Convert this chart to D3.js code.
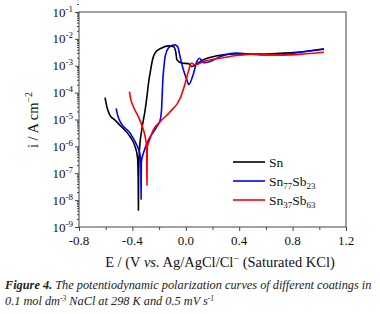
<!DOCTYPE html>
<html>

<head>
    <style>
        body { margin: 0; background: #fff; }
        svg text { font-family: 'Liberation Serif', serif; }
    </style>
</head>

<body>
    <script src="https://d3js.org/d3.v7.min.js"></script>
    <div id="chart"></div>
    <script>
        const width = 380
        const height = 314
        const plot = { left: 79, right: 346, top: 12, bottom: 227 }

        // potential E (V vs Ag/AgCl) and current density i (A cm^-2)
        const snE = [-0.605, -0.59, -0.567, -0.53, -0.492, -0.417, -0.38, -0.362, -0.3565, -0.355, -0.3535, -0.348, -0.33, -0.305, -0.29, -0.278, -0.265, -0.25, -0.23, -0.18, -0.13, -0.093, -0.075, -0.067, -0.03, 0.02, 0.045, 0.07, 0.132, 0.233, 0.357, 0.458, 0.6, 0.733, 0.9, 1.035]
        const snI = [6.5e-5, 2.8e-5, 1.4e-5, 9.5e-6, 6.0e-6, 2.3e-6, 9.8e-7, 4.0e-7, 6.3e-8, 4.2e-9, 6.3e-8, 6.3e-7, 4.1e-6, 2.2e-5, 7.9e-5, 2.5e-4, 6.3e-4, 1.6e-3, 3.0e-3, 4.6e-3, 5.5e-3, 5.2e-3, 3.2e-3, 1.66e-3, 1.26e-3, 1.2e-3, 9.3e-4, 1.07e-3, 1.66e-3, 2.35e-3, 2.75e-3, 2.75e-3, 2.75e-3, 2.95e-3, 3.4e-3, 4.1e-3]

        const sn77E = [-0.522, -0.51, -0.492, -0.417, -0.367, -0.345, -0.337, -0.335, -0.333, -0.326, -0.318, -0.28, -0.217, -0.192, -0.182, -0.177, -0.172, -0.165, -0.155, -0.13, -0.1, -0.08, -0.06, -0.043, -0.018, 0.008, 0.022, 0.058, 0.083, 0.103, 0.133, 0.183, 0.258, 0.383, 0.483, 0.6, 0.708, 0.85, 1.035]
        const sn77I = [2.6e-5, 1.4e-5, 8.3e-6, 3.1e-6, 1.1e-6, 5.6e-7, 2.5e-7, 1.07e-8, 2.5e-7, 4.0e-7, 5.5e-7, 1.7e-6, 5.4e-6, 9.5e-6, 2.2e-5, 7.9e-5, 3.0e-4, 7.9e-4, 2.2e-3, 4.6e-3, 5.8e-3, 6.0e-3, 5.0e-3, 2.2e-3, 7.1e-4, 3.0e-4, 2.0e-4, 5.2e-4, 1.45e-3, 1.9e-3, 1.3e-3, 1.45e-3, 2.2e-3, 2.95e-3, 2.7e-3, 2.5e-3, 2.5e-3, 3.2e-3, 4.3e-3]

        const sn37E = [-0.422, -0.412, -0.395, -0.355, -0.33, -0.305, -0.294, -0.2925, -0.291, -0.2895, -0.288, -0.28, -0.243, -0.192, -0.117, -0.042, -0.005, 0.02, 0.033, 0.045, 0.06, 0.08, 0.133, 0.258, 0.383, 0.533, 0.733, 0.9, 1.035]
        const sn37I = [1.1e-4, 5.6e-5, 3.2e-5, 1.26e-5, 6.3e-6, 2.3e-6, 9.8e-7, 2.5e-7, 3.6e-8, 2.5e-7, 1.0e-6, 1.3e-6, 4.1e-6, 8.3e-6, 1.95e-5, 6.2e-5, 2.2e-4, 6.3e-4, 1.07e-3, 1.26e-3, 1.12e-3, 1.12e-3, 1.45e-3, 1.9e-3, 2.4e-3, 2.75e-3, 2.5e-3, 2.8e-3, 3.2e-3]

        const xTicks = [-0.8, -0.4, 0.0, 0.4, 0.8, 1.2]
        const xMinor = [-0.6, -0.2, 0.2, 0.6, 1.0]
        const yExponents = [-1, -2, -3, -4, -5, -6, -7, -8, -9]

        const series = [
            { name: "Sn", sub: [], color: "#000000", E: snE, I: snI },
            { name: "Sn77Sb23", sub: ["Sn", "77", "Sb", "23"], color: "#0000ff", E: sn77E, I: sn77I },
            { name: "Sn37Sb63", sub: ["Sn", "37", "Sb", "63"], color: "#ff0000", E: sn37E, I: sn37I }
        ]

        const svg = d3.select("#chart").append("svg")
            .attr("width", width).attr("height", height)

        const x = d3.scaleLinear().domain([-0.8, 1.2]).range([plot.left, plot.right])
        const y = d3.scaleLog().domain([1e-9, 1e-1]).range([plot.bottom, plot.top])

        const yMinor = []
        yExponents.forEach(e => { if (e > -1) return; for (let k = 2; k <= 9; k++) yMinor.push(k * Math.pow(10, e)) })

        const axisColor = "#444"

        // minor ticks
        svg.append("g")
            .attr("transform", "translate(" + plot.left + ",0)")
            .call(d3.axisLeft(y).tickValues(yMinor).tickSize(2).tickFormat(""))
        svg.append("g")
            .attr("transform", "translate(0," + plot.bottom + ")")
            .call(d3.axisBottom(x).tickValues(xMinor).tickSize(3).tickFormat(""))

        // major ticks
        svg.append("g")
            .attr("transform", "translate(" + plot.left + ",0)")
            .call(d3.axisLeft(y).tickValues(yExponents.map(e => Math.pow(10, e))).tickSize(4).tickFormat(""))
        svg.append("g")
            .attr("transform", "translate(0," + plot.bottom + ")")
            .call(d3.axisBottom(x).tickValues(xTicks).tickSize(4).tickFormat(""))

        svg.selectAll(".domain").remove()
        svg.selectAll(".tick text").remove()
        svg.selectAll(".tick line").attr("stroke", axisColor)

        svg.append("rect")
            .attr("x", plot.left).attr("y", plot.top)
            .attr("width", plot.right - plot.left).attr("height", plot.bottom - plot.top)
            .attr("fill", "none").attr("stroke", axisColor).attr("stroke-width", 1)

        // y tick labels 10^n
        const yLab = svg.append("g").selectAll("text")
            .data(yExponents).enter().append("text")
            .attr("x", 73).attr("y", d => y(Math.pow(10, d)) + 4.5)
            .attr("text-anchor", "end").attr("font-size", 13).attr("fill", "#111")
        yLab.append("tspan").text("10")
        yLab.append("tspan").attr("dy", -5).attr("font-size", 9).text(d => "-" + (-d))

        // x tick labels
        svg.append("g").selectAll("text")
            .data(xTicks).enter().append("text")
            .attr("x", d => x(d)).attr("y", 245)
            .attr("text-anchor", "middle").attr("font-size", 13).attr("fill", "#111")
            .text(d => d3.format(".1f")(d).replace("−", "-"))

        // curves
        const line = d3.line()
            .x(d => x(d[0]))
            .y(d => y(d[1]))
            .curve(d3.curveMonotoneX)

        svg.append("g").selectAll("path")
            .data(series).enter().append("path")
            .attr("d", d => line(d.E.map((e, k) => [e, d.I[k]])))
            .attr("fill", "none")
            .attr("stroke", d => d.color)
            .attr("stroke-width", 1.6)
            .attr("stroke-linejoin", "round")

        // legend
        const legend = svg.append("g")
        series.forEach((s, k) => {
            const ly = 162 + k * 19
            legend.append("line")
                .attr("x1", 233).attr("x2", 265).attr("y1", ly).attr("y2", ly)
                .attr("stroke", s.color).attr("stroke-width", 1.6)
            const t = legend.append("text").attr("x", 269).attr("y", ly + 4.5)
                .attr("font-size", 13.5).attr("fill", "#111")
            if (s.sub.length === 0) {
                t.text(s.name)
            } else {
                t.append("tspan").text(s.sub[0])
                t.append("tspan").attr("font-size", 9).attr("dy", 3.5).text(s.sub[1])
                t.append("tspan").attr("dy", -3.5).text(s.sub[2])
                t.append("tspan").attr("font-size", 9).attr("dy", 3.5).text(s.sub[3])
            }
        })

        // axis titles
        const yTitle = svg.append("text")
            .attr("transform", "translate(38,120) rotate(-90)")
            .attr("text-anchor", "middle").attr("font-size", 14.5).attr("fill", "#111")
        yTitle.append("tspan").text("i / A cm")
        yTitle.append("tspan").attr("dy", -6).attr("font-size", 10).text("−2")

        const xTitle = svg.append("text")
            .attr("x", 220).attr("y", 267)
            .attr("text-anchor", "middle").attr("font-size", 14.5).attr("fill", "#111")
        xTitle.append("tspan").text("E / (V ")
        xTitle.append("tspan").attr("font-style", "italic").text("vs.")
        xTitle.append("tspan").text(" Ag/AgCl/Cl")
        xTitle.append("tspan").attr("dy", -5).attr("font-size", 10).text("−")
        xTitle.append("tspan").attr("dy", 5).text(" (Saturated KCl)")

        // caption
        const cap1 = svg.append("text")
            .attr("x", 5).attr("y", 289)
            .attr("font-size", 12.3).attr("font-style", "italic").attr("fill", "#222")
        cap1.append("tspan").attr("font-weight", "bold").text("Figure 4.")
        cap1.append("tspan").text(" The potentiodynamic polarization curves of different coatings in")

        const cap2 = svg.append("text")
            .attr("x", 5).attr("y", 305)
            .attr("font-size", 12.3).attr("font-style", "italic").attr("fill", "#222")
        cap2.append("tspan").text("0.1 mol dm")
        cap2.append("tspan").attr("dy", -4).attr("font-size", 7.5).text("-3")
        cap2.append("tspan").attr("dy", 4).text(" NaCl at 298 K and 0.5 mV s")
        cap2.append("tspan").attr("dy", -4).attr("font-size", 7.5).text("-1")
    </script>
</body>

</html>
